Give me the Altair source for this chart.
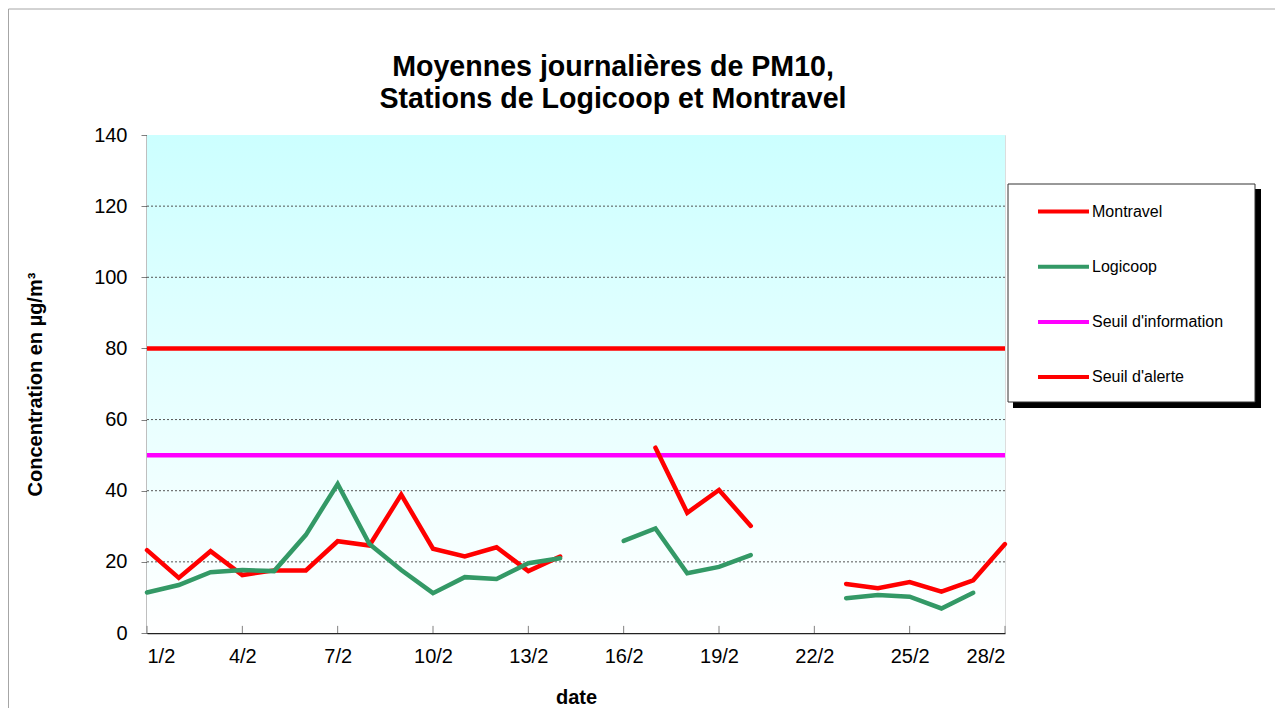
import altair as alt
import pandas as pd

FONT = "Liberation Sans"

days = list(range(1, 29))
montravel = [23.3, 15.5, 23.0, 16.3, 17.6, 17.6, 25.8, 24.6, 38.9, 23.7, 21.5, 24.1, 17.4, 21.5,
             None, None, 52.1, 33.8, 40.2, 30.1, None, None, 13.8, 12.6, 14.3, 11.6, 14.8, 25.0]
logicoop = [11.4, 13.5, 17.1, 17.7, 17.4, 27.6, 41.9, 25.0, 17.7, 11.2, 15.7, 15.2, 19.6, 21.0,
            None, 25.9, 29.4, 16.8, 18.6, 21.9, None, None, 9.8, 10.7, 10.2, 6.9, 11.3, None]
series_names = ["Montravel", "Logicoop", "Seuil d'information", "Seuil d'alerte"]
series_colors = ["#FF0000", "#339966", "#FF00FF", "#FF0000"]
threshold_names = ["Seuil d'information", "Seuil d'alerte"]
threshold_values = [50, 80]
x_ticks = [1, 4, 7, 10, 13, 16, 19, 22, 25, 28]
y_ticks = [0, 20, 40, 60, 80, 100, 120, 140]
grid_values = [20, 40, 60, 80, 100, 120]

title_lines = ["Moyennes journalières de PM10,", "Stations de Logicoop et Montravel"]

# build line data with segment ids (break at missing values)
rows = []
for name, vals in [("Montravel", montravel), ("Logicoop", logicoop)]:
    seg = 0
    prev_none = True
    for d, v in zip(days, vals):
        if v is None:
            prev_none = True
            continue
        if prev_none:
            seg += 1
            prev_none = False
        rows.append({"day": d, "value": v, "series": name, "segment": f"{name}-{seg}"})
lines_df = pd.DataFrame(rows)
thr_df = pd.DataFrame({"series": threshold_names, "value": threshold_values})
grid_df = pd.DataFrame({"value": grid_values})
xt_df = pd.DataFrame({"day": x_ticks})
one = pd.DataFrame({"a": [0]})

xscale = alt.Scale(domain=[1, 28], nice=False, zero=False)
yscale = alt.Scale(domain=[0, 140], nice=False)
color_scale = alt.Scale(domain=series_names, range=series_colors)

W, H = 858, 498

border = alt.Chart(one).mark_rect(fillOpacity=0, stroke="#A6A6A6", strokeWidth=1).encode(
    x=alt.value(-138.5), x2=alt.value(1300), y=alt.value(-126), y2=alt.value(800))

title = alt.Chart(one).mark_text(
    text=title_lines, font=FONT, fontSize=28.6, fontWeight="bold", color="black",
    align="center", baseline="alphabetic", lineHeight=32
).encode(x=alt.value(466), y=alt.value(-59))

bg = alt.Chart(one).mark_rect(
    fill=alt.Gradient(gradient="linear",
                      stops=[alt.GradientStop(color="#CCFFFF", offset=0),
                             alt.GradientStop(color="#FFFFFF", offset=1)],
                      x1=0, x2=0, y1=0, y2=1)
).encode(x=alt.datum(1, scale=xscale), x2=alt.datum(28), y=alt.datum(0, scale=yscale), y2=alt.datum(140))

grid = alt.Chart(grid_df).mark_rule(color="#555555", strokeWidth=1, strokeDash=[2, 2]).encode(
    y=alt.Y("value:Q", scale=yscale))

xticks = alt.Chart(xt_df).mark_rule(color="#808080", strokeWidth=1).encode(
    x=alt.X("day:Q", scale=xscale), y=alt.datum(0), y2=alt.datum(2))

thr = alt.Chart(thr_df).mark_rule(strokeWidth=4.5).encode(
    y=alt.Y("value:Q", scale=yscale),
    color=alt.Color("series:N", scale=color_scale))

shadow = alt.Chart(one).mark_rect(fill="black").encode(
    x=alt.value(866), x2=alt.value(1114), y=alt.value(54), y2=alt.value(273))
box = alt.Chart(one).mark_rect(fill="white", stroke="#333333", strokeWidth=1).encode(
    x=alt.value(861), x2=alt.value(1108), y=alt.value(49), y2=alt.value(267))

lines = alt.Chart(lines_df).mark_line(strokeWidth=4.5, strokeCap="round").encode(
    x=alt.X("day:Q", scale=xscale,
            axis=alt.Axis(values=x_ticks, labelExpr="datum.value + '/2'", title="date",
                          ticks=False, grid=False, domainColor="#222222", domainWidth=1.5,
                          labelFontSize=20, labelFont=FONT, labelColor="black", labelPadding=13,
                          titleFontSize=20, titleFont=FONT, titleFontWeight="bold",
                          titleColor="black", titlePadding=21)),
    y=alt.Y("value:Q", scale=yscale,
            axis=alt.Axis(values=y_ticks, title="Concentration en µg/m³", grid=False,
                          tickColor="#808080", tickSize=6, domainColor="black", domainWidth=1.5,
                          labelFontSize=20, labelFont=FONT, labelColor="black", labelPadding=14,
                          titleFontSize=20, titleFont=FONT, titleFontWeight="bold",
                          titleColor="black", titlePadding=48)),
    color=alt.Color("series:N", scale=color_scale,
                    legend=alt.Legend(orient="none", legendX=861, legendY=49, title=None,
                                      symbolType="stroke", symbolStrokeWidth=4, symbolSize=2600,
                                      labelFontSize=16, labelFont=FONT, labelColor="black",
                                      rowPadding=19.2, padding=0, symbolOffset=28, labelOffset=1,
                                      zindex=2)),
    detail="segment:N",
)

chart = alt.layer(border, title, bg, grid, xticks, thr, shadow, box, lines).properties(
    width=W, height=H,
    autosize=alt.AutoSizeParams(type="none"),
    padding={"left": 139, "top": 127, "right": 270, "bottom": 75},
).configure_view(stroke="#A6A6A6", strokeWidth=2).configure(background="white")

chart.save("out.html", embed_options={"renderer": "svg", "actions": False})
